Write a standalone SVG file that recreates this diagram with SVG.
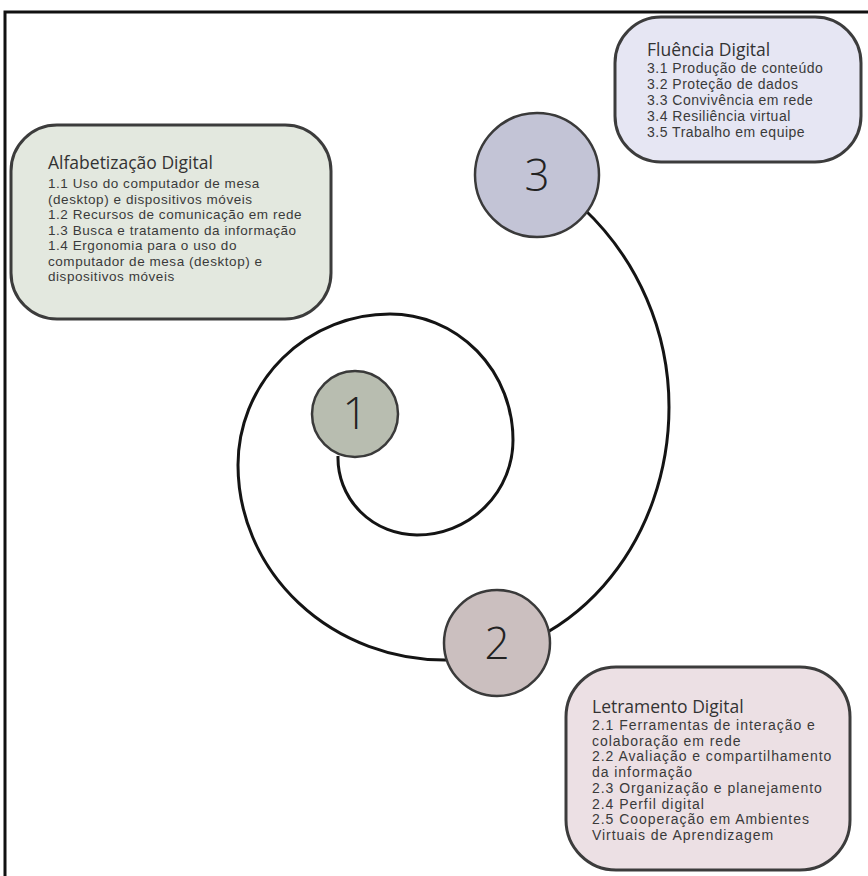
<svg xmlns="http://www.w3.org/2000/svg" width="868" height="876" viewBox="0 0 868 876">
<style>
.box{stroke:#3c3c3c;stroke-width:3}
.title{font-family:"Open Sans","Liberation Sans",sans-serif;font-size:17.5px;font-weight:500;fill:#333}
.item{font-family:"Liberation Sans",Arial,sans-serif;fill:#3a3a3a}
.node{stroke:#3a3a3a;stroke-width:2.5}
.num{font-family:"Open Sans","Liberation Sans",sans-serif;font-size:44px;font-weight:300;fill:#222;text-anchor:middle}
.spiral{fill:none;stroke:#141414;stroke-width:3}
</style>
<rect x="0" y="0" width="868" height="876" fill="#fff"/>
<rect x="5" y="12" width="900" height="900" fill="none" stroke="#111" stroke-width="3"/>
<g id="connectors">
<path class="spiral" d="M338,456 A79,77 0 0 0 417,535 A96,95 0 0 0 513,440 A123,126 0 0 0 390,314 A152,151 0 0 0 238,465 A207,195 0 0 0 445,660 A224,253 0 0 0 669,407 A273,273 0 0 0 583,208"/>
</g>
<g id="box-alfabetizacao">
<rect class="box" x="11" y="125" width="320" height="194" rx="46" fill="#e3e8df"/>
<text class="title" x="48" y="169">Alfabetização Digital</text>
<text class="item" font-size="13.5" letter-spacing="0.55">
<tspan x="48" y="188">1.1 Uso do computador de mesa</tspan>
<tspan x="48" y="203.5">(desktop) e dispositivos móveis</tspan>
<tspan x="48" y="219">1.2 Recursos de comunicação em rede</tspan>
<tspan x="48" y="234.5">1.3 Busca e tratamento da informação</tspan>
<tspan x="48" y="250">1.4 Ergonomia para o uso do</tspan>
<tspan x="48" y="265.5">computador de mesa (desktop) e</tspan>
<tspan x="48" y="281">dispositivos móveis</tspan>
</text>
</g>
<g id="box-fluencia">
<rect class="box" x="615" y="17" width="246" height="145" rx="46" fill="#e6e6f3"/>
<text class="title" x="647" y="56">Fluência Digital</text>
<text class="item" font-size="14" letter-spacing="0.5">
<tspan x="647" y="73">3.1 Produção de conteúdo</tspan>
<tspan x="647" y="89">3.2 Proteção de dados</tspan>
<tspan x="647" y="105">3.3 Convivência em rede</tspan>
<tspan x="647" y="121">3.4 Resiliência virtual</tspan>
<tspan x="647" y="137">3.5 Trabalho em equipe</tspan>
</text>
</g>
<g id="box-letramento">
<rect class="box" x="566" y="667" width="284" height="203" rx="50" fill="#ece0e4"/>
<text class="title" x="592" y="713">Letramento Digital</text>
<text class="item" font-size="14" letter-spacing="0.95">
<tspan x="592" y="730">2.1 Ferramentas de interação e</tspan>
<tspan x="592" y="745.7">colaboração em rede</tspan>
<tspan x="592" y="761.4">2.2 Avaliação e compartilhamento</tspan>
<tspan x="592" y="777.1">da informação</tspan>
<tspan x="592" y="792.8">2.3 Organização e planejamento</tspan>
<tspan x="592" y="808.5">2.4 Perfil digital</tspan>
<tspan x="592" y="824.2">2.5 Cooperação em Ambientes</tspan>
<tspan x="592" y="839.9">Virtuais de Aprendizagem</tspan>
</text>
</g>
<g id="node-1">
<circle class="node" cx="355" cy="414" r="43" fill="#b8bdb0"/>
<text class="num" x="355" y="429">1</text>
</g>
<g id="node-2">
<circle class="node" cx="497" cy="643" r="53" fill="#cbbfbf"/>
<text class="num" x="497" y="659">2</text>
</g>
<g id="node-3">
<circle class="node" cx="537" cy="175" r="62" fill="#c3c4d6"/>
<text class="num" x="537" y="191">3</text>
</g>
</svg>
